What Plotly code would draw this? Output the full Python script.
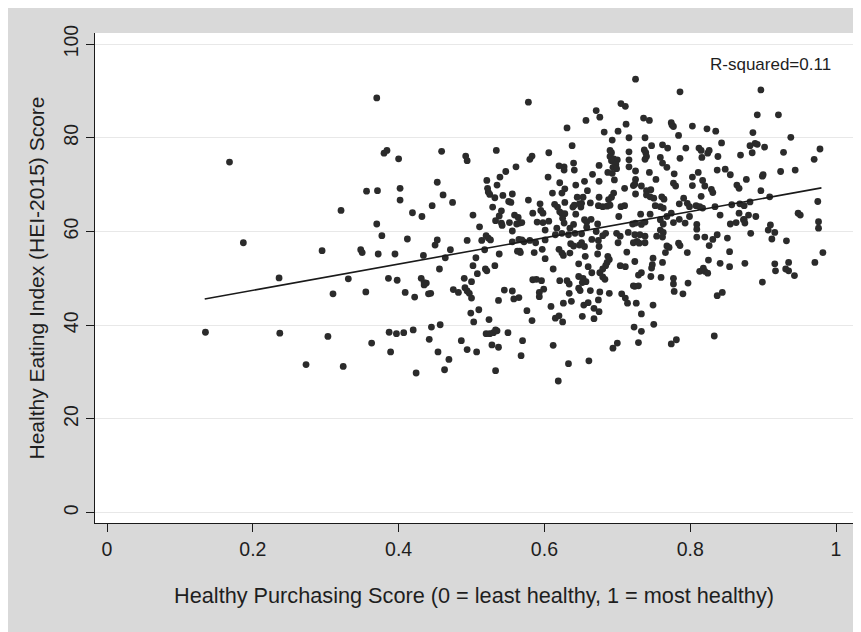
import plotly.graph_objects as go

# Healthy Purchasing Score (x) and HEI-2015 score (y)
purchasing_score = [
    0.168, 0.321, 0.187, 0.295, 0.236, 0.331, 0.310, 0.135, 0.237, 0.303, 0.273, 0.324,
    0.370, 0.578, 0.380, 0.384, 0.400, 0.459, 0.492, 0.494, 0.534, 0.561, 0.547, 0.539, 0.521, 0.453,
    0.356, 0.371, 0.402, 0.402, 0.522, 0.523, 0.525, 0.535, 0.532, 0.543, 0.556, 0.551, 0.554, 0.461,
    0.474, 0.446, 0.419, 0.432, 0.502, 0.529, 0.541, 0.538, 0.533, 0.541, 0.542, 0.552, 0.559, 0.564,
    0.566, 0.569, 0.562, 0.370, 0.511, 0.556, 0.377, 0.412, 0.453, 0.450, 0.494, 0.514, 0.520, 0.523,
    0.526, 0.556, 0.565, 0.569, 0.572, 0.566, 0.567, 0.563, 0.348, 0.350, 0.372, 0.395, 0.434, 0.464,
    0.471, 0.506, 0.518, 0.538, 0.502, 0.519, 0.521, 0.532, 0.508, 0.456, 0.386, 0.398, 0.431, 0.435,
    0.438, 0.435, 0.490, 0.500, 0.355, 0.409, 0.422, 0.441, 0.444, 0.475, 0.482, 0.491, 0.494, 0.497,
    0.500, 0.545, 0.556, 0.558, 0.565, 0.537, 0.576, 0.499, 0.510, 0.503, 0.524, 0.363, 0.387, 0.397,
    0.407, 0.420, 0.389, 0.445, 0.457, 0.442, 0.454, 0.469, 0.463, 0.424, 0.486, 0.494, 0.507, 0.520,
    0.525, 0.530, 0.533, 0.535, 0.550, 0.528, 0.537, 0.533, 0.570, 0.568,
    0.725, 0.705, 0.711, 0.671, 0.676, 0.657, 0.712, 0.631, 0.682, 0.701, 0.716, 0.693, 0.638, 0.606,
    0.583, 0.580, 0.690, 0.692, 0.690, 0.695, 0.700, 0.692, 0.698, 0.694, 0.699, 0.693, 0.716, 0.716,
    0.716, 0.725, 0.640, 0.641, 0.620, 0.627, 0.627, 0.675, 0.605, 0.666, 0.687, 0.655, 0.675, 0.696,
    0.725, 0.621, 0.643, 0.628, 0.624, 0.611, 0.659, 0.710, 0.722, 0.675, 0.695, 0.692, 0.688, 0.653,
    0.645, 0.725, 0.578, 0.594, 0.614, 0.618, 0.628, 0.639, 0.641, 0.648, 0.650, 0.651, 0.663, 0.674,
    0.680, 0.686, 0.690, 0.705, 0.710, 0.584, 0.595, 0.598, 0.621, 0.624, 0.628, 0.625, 0.643, 0.655,
    0.658, 0.664, 0.702, 0.590, 0.598, 0.606, 0.627, 0.640, 0.673, 0.721,
    0.586, 0.597, 0.601, 0.620, 0.624, 0.626, 0.635, 0.612, 0.647, 0.648, 0.655, 0.651, 0.636, 0.640,
    0.660, 0.656, 0.665, 0.674, 0.675, 0.673, 0.687, 0.689, 0.686, 0.684, 0.680, 0.701, 0.713, 0.704,
    0.711, 0.724, 0.621, 0.631, 0.634, 0.584, 0.589, 0.596, 0.647, 0.653, 0.657, 0.652, 0.665, 0.676,
    0.680, 0.683, 0.599, 0.593, 0.593, 0.634, 0.647, 0.649, 0.663, 0.676, 0.689, 0.706, 0.711, 0.724,
    0.626, 0.637, 0.609, 0.654, 0.660, 0.674, 0.668, 0.675, 0.714, 0.726, 0.615, 0.620, 0.625, 0.583,
    0.652, 0.668, 0.723, 0.612, 0.633, 0.661, 0.619, 0.694, 0.700, 0.729,
    0.580, 0.588, 0.601, 0.615, 0.624, 0.633, 0.642, 0.651, 0.658, 0.671, 0.680, 0.684, 0.699, 0.704,
    0.715, 0.601, 0.617, 0.635, 0.727,
    0.786, 0.736, 0.744, 0.774, 0.775, 0.777, 0.803, 0.823, 0.835, 0.784, 0.738, 0.843, 0.737, 0.739,
    0.740, 0.738, 0.747, 0.762, 0.769, 0.794, 0.812, 0.815, 0.816, 0.824, 0.826, 0.838, 0.869, 0.759,
    0.762, 0.768, 0.786, 0.744, 0.778, 0.811, 0.803, 0.837, 0.848, 0.855, 0.877, 0.724, 0.753, 0.777,
    0.780, 0.803, 0.817, 0.820, 0.864, 0.867, 0.733, 0.740, 0.746, 0.740, 0.745, 0.750, 0.761, 0.764,
    0.829, 0.831, 0.815, 0.752, 0.759, 0.763, 0.785, 0.791, 0.796, 0.799, 0.808, 0.813, 0.817, 0.834,
    0.857, 0.868, 0.867, 0.880, 0.732, 0.745, 0.759, 0.768, 0.774, 0.799, 0.841,
    0.725, 0.733, 0.738, 0.763, 0.777, 0.785, 0.793, 0.809, 0.855, 0.863, 0.873,
    0.759, 0.763, 0.754, 0.762, 0.724, 0.731, 0.738, 0.722, 0.730, 0.738, 0.809, 0.809, 0.820, 0.831,
    0.837, 0.851, 0.826, 0.768, 0.771, 0.766, 0.784, 0.786, 0.796, 0.854, 0.749, 0.748, 0.747, 0.762,
    0.733, 0.729, 0.746, 0.760, 0.777, 0.777, 0.813, 0.818, 0.820, 0.824, 0.825, 0.841, 0.854, 0.875,
    0.797, 0.778, 0.790, 0.722, 0.729, 0.837, 0.844, 0.749, 0.733, 0.750, 0.733, 0.774, 0.781, 0.833,
    0.897, 0.892, 0.921, 0.886, 0.938, 0.889, 0.892, 0.882, 0.902, 0.928, 0.885, 0.978, 0.970, 0.900,
    0.899, 0.924, 0.944, 0.897, 0.909, 0.874, 0.882, 0.975, 0.948, 0.951, 0.890, 0.874, 0.875, 0.976,
    0.910, 0.976,
    0.907, 0.883, 0.916, 0.912, 0.932, 0.982, 0.916, 0.917, 0.935, 0.931, 0.935, 0.943, 0.971, 0.899,
]

hei_score = [
    74.8, 64.5, 57.6, 55.9, 50.1, 49.9, 46.7, 38.5, 38.3, 37.6, 31.6, 31.2,
    88.5, 87.6, 76.7, 77.3, 75.5, 77.1, 76.1, 75.1, 77.3, 73.8, 72.8, 71.6, 70.9, 70.5,
    68.6, 68.7, 69.2, 66.7, 69.2, 68.4, 67.9, 69.9, 67.2, 67.7, 68.0, 66.4, 66.2, 67.8,
    66.2, 65.5, 64.0, 63.2, 63.5, 65.2, 64.4, 63.3, 62.3, 61.8, 61.3, 61.9, 63.5, 63.0,
    61.8, 61.9, 61.6, 61.6, 61.0, 60.1, 59.1, 58.4, 58.2, 57.1, 58.1, 58.1, 59.1, 58.6,
    58.2, 57.8, 58.3, 58.2, 57.8, 55.8, 55.5, 55.8, 56.1, 55.5, 55.2, 55.2, 54.9, 54.4,
    56.1, 54.4, 56.1, 55.2, 52.7, 52.0, 51.6, 52.7, 51.0, 52.0, 50.0, 49.6, 50.0, 49.1,
    49.0, 48.6, 50.0, 49.3, 47.1, 47.0, 46.0, 46.7, 46.8, 47.6, 47.0, 48.0, 47.3, 46.8,
    45.8, 47.5, 47.3, 45.6, 45.9, 45.3, 43.1, 42.6, 43.3, 40.7, 41.2, 36.2, 38.5, 38.2,
    38.4, 39.0, 34.3, 39.6, 40.1, 37.0, 34.3, 32.7, 30.5, 29.8, 36.7, 34.8, 34.3, 38.2,
    38.2, 38.4, 39.0, 38.8, 38.4, 35.8, 35.3, 30.3, 36.7, 33.5,
    92.5, 87.3, 86.7, 85.8, 84.4, 83.7, 82.9, 82.1, 81.2, 81.4, 80.0, 79.5, 78.3, 76.8,
    76.1, 75.4, 77.3, 76.8, 76.0, 75.5, 75.3, 75.1, 74.3, 73.7, 73.4, 72.4, 77.0, 75.3,
    73.8, 72.9, 74.6, 73.1, 74.0, 73.8, 73.1, 74.1, 71.6, 72.2, 72.6, 70.7, 70.7, 71.0,
    71.1, 70.4, 69.9, 69.1, 68.2, 68.2, 68.7, 69.2, 69.8, 67.3, 68.2, 67.3, 66.8, 67.3,
    67.3, 68.0, 66.7, 65.9, 65.8, 65.2, 66.2, 65.2, 65.6, 65.9, 65.2, 66.0, 66.1, 65.5,
    65.3, 65.4, 65.6, 65.3, 65.5, 63.9, 64.5, 63.9, 64.2, 63.8, 63.8, 62.8, 63.7, 62.5,
    62.0, 62.6, 63.2, 62.0, 61.9, 62.2, 61.8, 61.5, 61.6, 61.6,
    55.5, 56.2, 54.2, 56.2, 55.4, 54.9, 55.4, 52.0, 53.1, 57.1, 56.8, 57.6, 57.4, 56.9,
    52.5, 54.7, 58.3, 58.1, 56.8, 55.2, 54.7, 54.0, 53.4, 52.7, 52.0, 57.6, 55.6, 52.7,
    52.5, 53.6, 49.5, 49.5, 48.8, 49.7, 49.8, 49.5, 50.4, 50.0, 49.3, 49.1, 51.2, 51.2,
    50.3, 49.8, 47.7, 47.0, 46.1, 46.8, 47.9, 47.4, 47.4, 47.1, 46.8, 46.7, 45.8, 48.3,
    44.7, 45.1, 44.0, 44.3, 44.8, 45.4, 43.6, 42.9, 44.7, 44.7, 41.5, 42.0, 40.7, 41.0,
    41.9, 41.4, 39.6, 35.7, 31.8, 32.4, 28.1, 35.1, 36.2, 36.3,
    58.1, 57.6, 58.2, 59.3, 59.6, 59.3, 59.6, 59.5, 60.9, 60.0, 59.1, 59.6, 59.6, 59.0,
    59.8, 60.3, 60.7, 60.7, 57.9,
    89.8, 84.2, 83.7, 83.2, 82.7, 82.4, 82.5, 81.9, 81.4, 80.5, 80.0, 78.9, 77.4, 76.8,
    76.0, 75.4, 78.3, 78.5, 77.8, 77.8, 77.8, 77.3, 75.8, 76.7, 77.3, 76.0, 76.3, 75.8,
    74.6, 73.7, 75.6, 72.6, 72.3, 72.6, 71.6, 73.1, 73.3, 72.1, 71.1, 70.1, 71.1, 70.3,
    69.7, 69.8, 70.9, 69.7, 69.9, 69.2, 69.7, 68.7, 68.9, 67.8, 67.4, 67.1, 67.4, 66.9,
    69.0, 68.3, 67.5, 65.5, 65.3, 65.0, 65.9, 67.1, 66.0, 65.3, 65.5, 65.3, 65.0, 65.3,
    65.7, 65.9, 63.9, 63.5, 63.7, 63.7, 62.5, 63.2, 63.9, 63.2, 63.5,
    61.8, 61.5, 62.0, 61.6, 61.9, 62.6, 61.8, 61.5, 61.6, 61.9, 62.5,
    60.3, 59.8, 59.0, 58.8, 59.3, 59.3, 59.0, 57.6, 57.5, 57.6, 60.5, 58.8, 58.8, 58.3,
    59.3, 58.6, 57.0, 56.9, 56.6, 55.5, 57.5, 57.0, 55.5, 55.7, 54.3, 52.9, 52.2, 53.4,
    51.2, 50.7, 50.4, 50.2, 50.0, 48.8, 51.5, 52.2, 51.5, 51.1, 53.9, 53.2, 52.5, 53.2,
    49.0, 47.2, 46.7, 48.4, 48.4, 46.3, 47.0, 44.3, 42.4, 40.2, 38.7, 36.0, 36.9, 37.7,
    90.2, 84.9, 84.9, 81.1, 80.1, 78.8, 78.6, 78.3, 78.0, 76.9, 76.8, 77.6, 75.4, 72.1,
    71.8, 72.8, 73.1, 68.7, 67.4, 65.5, 66.3, 66.4, 63.9, 63.5, 63.2, 62.6, 61.8, 62.1,
    61.4, 60.7,
    60.3, 59.6, 59.8, 58.4, 58.0, 55.5, 53.1, 51.6, 53.4, 52.0, 51.6, 50.6, 53.4, 49.2,
]

# Linear fit line (endpoints)
fit_x = [0.134, 0.980]
fit_y = [45.6, 69.3]

x_ticks = [0, 0.2, 0.4, 0.6, 0.8, 1]
x_tick_labels = ["0", "0.2", "0.4", "0.6", "0.8", "1"]
y_ticks = [0, 20, 40, 60, 80, 100]
r_squared_label = "R-squared=0.11"

FONT = "Liberation Sans, Arial, Helvetica, sans-serif"
TXT = "#1e1e1e"
BG = "#d9d9d9"

fig = go.Figure()
fig.add_trace(go.Scatter(
    x=purchasing_score, y=hei_score, mode="markers",
    marker=dict(size=6.8, color="#2b2b2b", line=dict(width=0)),
    showlegend=False, hoverinfo="x+y",
))
fig.add_trace(go.Scatter(
    x=fit_x, y=fit_y, mode="lines",
    line=dict(color="#1a1a1a", width=1.6),
    showlegend=False, hoverinfo="skip",
))

fig.add_annotation(
    x=0.9095, y=95.6, xref="x", yref="y", text=r_squared_label,
    showarrow=False, xanchor="center", yanchor="middle",
    font=dict(family=FONT, size=17, color=TXT),
)

fig.update_layout(
    width=861, height=632,
    margin=dict(l=87, r=16, t=25, b=117),
    paper_bgcolor=BG, plot_bgcolor="white",
    font=dict(family=FONT, color=TXT),
    xaxis=dict(
        range=[-0.0165, 1.0233], tickvals=x_ticks, ticktext=x_tick_labels,
        showgrid=False, zeroline=False,
        showline=True, linecolor="#1a1a1a", linewidth=1.3,
        ticks="outside", ticklen=8, tickwidth=1.2, tickcolor="#1a1a1a",
        tickfont=dict(family=FONT, size=19.5, color=TXT),
        title=dict(text="Healthy Purchasing Score (0 = least healthy, 1 = most healthy)",
                   font=dict(family=FONT, size=21.7, color=TXT), standoff=29),
    ),
    yaxis=dict(
        range=[-2.2, 102.35], tickvals=y_ticks,
        showgrid=True, gridcolor="#e8e8e8", gridwidth=1, zeroline=False,
        showline=True, linecolor="#1a1a1a", linewidth=1.3,
        ticks="outside", ticklen=8, tickwidth=1.2, tickcolor="#1a1a1a",
        tickangle=-90,
        tickfont=dict(family=FONT, size=19.5, color=TXT),
        title=dict(text="Healthy Eating Index (HEI-2015) Score",
                   font=dict(family=FONT, size=21, color=TXT), standoff=9),
    ),
)

fig.write_html("out.html")
